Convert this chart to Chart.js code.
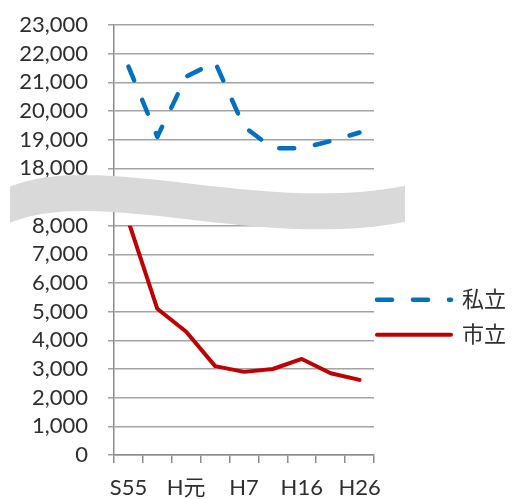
<!DOCTYPE html>
<html>
<head>
<meta charset="utf-8">
<script src="https://cdn.jsdelivr.net/npm/chart.js@4"></script>
<style>
  html, body { margin: 0; padding: 0; background: #fff; }
  #wrap { width: 525px; height: 499px; }
</style>
</head>
<body>
<div id="wrap"><canvas id="chart"></canvas></div>
<script>
const categories = ['S55', '', 'H元', '', 'H7', '', 'H16', '', 'H26'];
const privateVals = [21550, 19100, 21200, 21700, 19450, 18700, 18700, 18950, 19250]; // 私立
const cityVals = [8150, 5100, 4300, 3100, 2900, 3000, 3350, 2850, 2620];               // 市立
const topTicks = [18000, 23000];   // upper part of the broken axis
const bottomTicks = [0, 8000];     // lower part

const FONT = "Lato, 'Noto Sans CJK JP', sans-serif";
const TEXT = '#2e2e2e';
const GRID = '#a3a3a3';
const AXIS = '#8c8c8c';

// grey wavy band over the axis break
const breakBand = {
  id: 'breakBand',
  afterDraw(chart) {
    const ctx = chart.ctx;
    const base = chart.scales.yBot.top;
    const l = chart.chartArea.left;
    const off = 36;
    ctx.save();
    ctx.fillStyle = '#d9d9d9';
    ctx.beginPath();
    ctx.moveTo(l - 104, base - 39);
    ctx.bezierCurveTo(l - 14, base - 76, l + 146, base - 11, l + 291, base - 40);
    ctx.lineTo(l + 291, base - 40 + off);
    ctx.bezierCurveTo(l + 146, base - 11 + off, l - 14, base - 76 + off, l - 104, base - 39 + off);
    ctx.closePath();
    ctx.fill();
    ctx.restore();
  }
};

// pull the legend a bit closer to the plot
const legendNudge = {
  id: 'legendNudge',
  afterLayout(chart) {
    chart.legend.left -= 10;
    chart.legend.right -= 10;
  }
};

new Chart(document.getElementById('chart'), {
  type: 'line',
  data: {
    labels: categories,
    datasets: [
      {
        label: '私立', data: privateVals, yAxisID: 'yTop',
        borderColor: '#0070c0', backgroundColor: '#0070c0', borderWidth: 4.5,
        borderDash: [15, 21], borderCapStyle: 'round', borderJoinStyle: 'round',
        pointRadius: 0, tension: 0
      },
      {
        label: '市立', data: cityVals, yAxisID: 'yBot',
        borderColor: '#c00000', backgroundColor: '#c00000', borderWidth: 4,
        borderCapStyle: 'round', borderJoinStyle: 'round',
        pointRadius: 0, tension: 0
      }
    ]
  },
  options: {
    responsive: true,
    maintainAspectRatio: false,
    animation: false,
    layout: { padding: { top: 0, left: 0, right: -1, bottom: 0 } },
    plugins: {
      tooltip: { enabled: false },
      legend: {
        position: 'right',
        maxWidth: 170,
        title: { display: true, text: '', padding: { top: 121, bottom: 0 } },
        labels: {
          usePointStyle: true, pointStyle: 'line', pointStyleWidth: 74,
          boxHeight: 22, padding: 13, color: TEXT,
          font: { family: FONT, size: 22 },
          generateLabels(chart) {
            const items = Chart.defaults.plugins.legend.labels.generateLabels(chart);
            items.forEach(it => {
              const ds = chart.data.datasets[it.datasetIndex];
              it.lineDash = ds.borderDash || [];
              it.lineCap = ds.borderCapStyle;
              it.lineWidth = ds.borderWidth;
            });
            return items;
          }
        }
      }
    },
    scales: {
      x: {
        offset: true,
        afterFit: s => { s.height = 44; },
        grid: { offset: true, drawOnChartArea: false, tickLength: 8, color: AXIS, lineWidth: 1.5 },
        border: { color: AXIS, width: 1.5 },
        ticks: { autoSkip: false, maxRotation: 0, padding: 12, color: TEXT, font: { family: FONT, size: 22 } }
      },
      yBot: {
        position: 'left', stack: 'y', stackWeight: 8,
        min: bottomTicks[0], max: bottomTicks[1],
        afterFit: s => { s.width = 114; s.paddingTop = 0; },
        grid: { tickLength: 6, lineWidth: 1.5, color: GRID },
        border: { color: AXIS, width: 1.5 },
        ticks: {
          stepSize: 1000, autoSkip: false, padding: 20, color: TEXT, font: { family: FONT, size: 22 },
          callback: v => v.toLocaleString('en-US')
        }
      },
      yTop: {
        position: 'left', stack: 'y', stackWeight: 7,
        min: topTicks[0] - 2000, max: topTicks[1],
        afterFit: s => { s.width = 114; s.paddingTop = 25; },
        grid: { tickLength: 6, lineWidth: 1.5, color: c => c.tick && c.tick.value >= topTicks[0] ? GRID : 'rgba(0,0,0,0)' },
        border: { color: AXIS, width: 1.5 },
        ticks: {
          stepSize: 1000, autoSkip: false, padding: 20, color: TEXT, font: { family: FONT, size: 22 },
          callback: v => v >= topTicks[0] ? v.toLocaleString('en-US') : ''
        }
      }
    }
  },
  plugins: [breakBand, legendNudge]
});
</script>
</body>
</html>
